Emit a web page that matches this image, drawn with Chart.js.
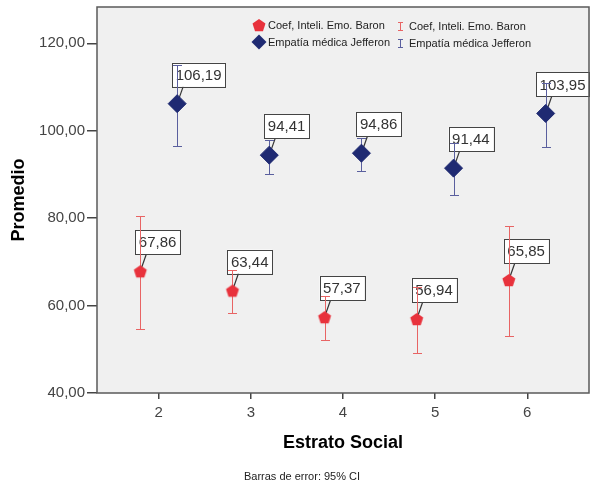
<!DOCTYPE html>
<html>
<head>
<meta charset="utf-8">
<script src="https://cdn.jsdelivr.net/npm/chart.js@4.4.1/dist/chart.umd.min.js"></script>
<style>
  html, body { margin: 0; padding: 0; background: #fff; }
  #wrap { width: 590px; height: 484px; }
</style>
</head>
<body>
<div id="wrap"><canvas id="chart" width="590" height="484"></canvas></div>
<script>
// ── Data ─────────────────────────────────────────────────
const estratos   = [2, 3, 4, 5, 6];
const yTicks     = [40, 60, 80, 100, 120];

const baronMean  = [67.86, 63.44, 57.37, 56.94, 65.85];
const baronLow   = [54.7, 58.4, 52.2, 49.2, 53.0];
const baronHigh  = [80.6, 68.2, 62.2, 64.2, 78.2];

const jeffMean   = [106.19, 94.41, 94.86, 91.44, 103.95];
const jeffLow    = [96.5, 90.1, 90.7, 85.2, 96.3];
const jeffHigh   = [115.1, 97.9, 98.4, 97.1, 110.9];

// ── Styles ───────────────────────────────────────────────
const FONT   = '"Liberation Sans", Arial, sans-serif';
const RED    = '#e8323c';
const RED_EB = '#e86464';
const BLUE   = '#1f2a72';
const BLUE_EB= '#5a5f9e';
const OFFSET = 0.2;

const fmt = v => v.toFixed(2).replace('.', ',');

function pentagon(r, color) {
  const s = Math.ceil(r * 2) + 2;
  const cv = document.createElement('canvas');
  cv.width = s; cv.height = s;
  const g = cv.getContext('2d');
  const cx = s / 2, cy = s / 2 + r * 0.1;
  g.beginPath();
  for (let i = 0; i < 5; i++) {
    const a = -Math.PI / 2 + i * 2 * Math.PI / 5;
    const px = cx + r * Math.cos(a), py = cy + r * Math.sin(a);
    i ? g.lineTo(px, py) : g.moveTo(px, py);
  }
  g.closePath();
  g.fillStyle = color;
  g.fill();
  return cv;
}

const penta = pentagon(6.8, RED);

// ── Plugin: background, labels, error bars, frame, texts ─
const spssPlugin = {
  id: 'spss',
  beforeDatasetsDraw(chart) {
    const { ctx, chartArea: a, scales: { y } } = chart;
    ctx.save();
    ctx.fillStyle = '#f0f0f0';
    ctx.fillRect(a.left, a.top, a.right - a.left, a.bottom - a.top);

    const sets = [
      { mean: baronMean, low: baronLow, high: baronHigh, color: RED_EB, idx: 0 },
      { mean: jeffMean,  low: jeffLow,  high: jeffHigh,  color: BLUE_EB, idx: 1 },
    ];

    // value labels with leader lines
    ctx.font = `15px ${FONT}`;
    ctx.textBaseline = 'middle';
    sets.forEach(s => {
      const meta = chart.getDatasetMeta(s.idx);
      meta.data.forEach((pt, i) => {
        const txt = fmt(s.mean[i]);
        const w = ctx.measureText(txt).width + 7;
        const h = 24;
        let left = pt.x - 5;
        if (left + w > a.right) left = a.right - w;
        const bottom = pt.y - 17;
        ctx.strokeStyle = '#333';
        ctx.lineWidth = 1.2;
        ctx.beginPath();
        ctx.moveTo(pt.x, pt.y);
        ctx.lineTo(pt.x + 6, bottom);
        ctx.stroke();
        ctx.fillStyle = '#fff';
        ctx.fillRect(left, bottom - h, w, h);
        ctx.strokeStyle = '#444';
        ctx.lineWidth = 1;
        ctx.strokeRect(Math.round(left) + 0.5, Math.round(bottom - h) + 0.5, Math.round(w), h);
        ctx.fillStyle = '#333';
        ctx.textAlign = 'left';
        ctx.fillText(txt, left + 3.5, bottom - h / 2 + 1);
      });
    });

    // error bars
    sets.forEach(s => {
      const meta = chart.getDatasetMeta(s.idx);
      ctx.strokeStyle = s.color;
      ctx.lineWidth = 1;
      meta.data.forEach((pt, i) => {
        const x = Math.round(pt.x) + 0.5;
        const yt = Math.round(y.getPixelForValue(s.high[i])) + 0.5;
        const yb = Math.round(y.getPixelForValue(s.low[i])) + 0.5;
        ctx.beginPath();
        ctx.moveTo(x, yt); ctx.lineTo(x, yb);
        ctx.moveTo(x - 4.5, yt); ctx.lineTo(x + 4.5, yt);
        ctx.moveTo(x - 4.5, yb); ctx.lineTo(x + 4.5, yb);
        ctx.stroke();
      });
    });
    ctx.restore();
  },
  afterDraw(chart) {
    const { ctx, chartArea: a } = chart;
    ctx.save();
    // frame
    ctx.strokeStyle = '#5a5a5a';
    ctx.lineWidth = 1.5;
    ctx.strokeRect(a.left, a.top, a.right - a.left, a.bottom - a.top);

    // legend
    ctx.font = `11px ${FONT}`;
    ctx.textBaseline = 'middle';
    ctx.textAlign = 'left';
    ctx.fillStyle = '#222';
    ctx.drawImage(penta, 259 - penta.width / 2, 25 - penta.height / 2);
    ctx.fillText('Coef, Inteli. Emo. Baron', 268, 26);
    ctx.fillStyle = BLUE;
    ctx.beginPath();
    ctx.moveTo(259, 34.5); ctx.lineTo(266.5, 42); ctx.lineTo(259, 49.5); ctx.lineTo(251.5, 42);
    ctx.closePath(); ctx.fill();
    ctx.fillStyle = '#222';
    ctx.fillText('Empatía médica Jefferon', 268, 43);

    [[RED_EB, 26], [BLUE_EB, 43]].forEach(([c, yy]) => {
      ctx.strokeStyle = c;
      ctx.lineWidth = 1;
      ctx.beginPath();
      ctx.moveTo(400.5, yy - 4); ctx.lineTo(400.5, yy + 4);
      ctx.moveTo(398, yy - 4 + 0.5); ctx.lineTo(403, yy - 4 + 0.5);
      ctx.moveTo(398, yy + 4 + 0.5); ctx.lineTo(403, yy + 4 + 0.5);
      ctx.stroke();
    });
    ctx.fillText('Coef, Inteli. Emo. Baron', 409, 27);
    ctx.fillText('Empatía médica Jefferon', 409, 44);

    // axis titles
    ctx.fillStyle = '#000';
    ctx.font = `bold 18px ${FONT}`;
    ctx.textAlign = 'center';
    ctx.fillText('Estrato Social', (a.left + a.right) / 2, 443);
    ctx.save();
    ctx.translate(19, (a.top + a.bottom) / 2);
    ctx.rotate(-Math.PI / 2);
    ctx.fillText('Promedio', 0, 0);
    ctx.restore();

    // footnote
    ctx.font = `11px ${FONT}`;
    ctx.fillStyle = '#222';
    ctx.fillText('Barras de error: 95% CI', 302, 477);
    ctx.restore();
  }
};

// no extra label padding — the frame sits at fixed pixels
const noPad = s => { s.paddingLeft = 0; s.paddingRight = 0; s.paddingTop = 0; s.paddingBottom = 0; };

// ── Chart ────────────────────────────────────────────────
new Chart(document.getElementById('chart'), {
  type: 'scatter',
  data: {
    datasets: [
      {
        label: 'Coef, Inteli. Emo. Baron',
        data: estratos.map((e, i) => ({ x: e - OFFSET, y: baronMean[i] })),
        pointStyle: penta,
        pointRadius: 7,
        backgroundColor: RED,
        borderColor: RED,
      },
      {
        label: 'Empatía médica Jefferon',
        data: estratos.map((e, i) => ({ x: e + OFFSET, y: jeffMean[i] })),
        pointStyle: 'rectRot',
        pointRadius: 9,
        borderWidth: 1,
        backgroundColor: BLUE,
        borderColor: BLUE,
      },
    ],
  },
  options: {
    responsive: false,
    animation: false,
    devicePixelRatio: 1,
    layout: { autoPadding: false, padding: { top: 7, right: 1, left: 0, bottom: 0 } },
    plugins: { legend: { display: false }, tooltip: { enabled: false } },
    scales: {
      x: {
        type: 'linear', min: 1.33, max: 6.67,
        afterBuildTicks: s => { s.ticks = estratos.map(v => ({ value: v })); },
        afterFit: s => { s.height = 91; noPad(s); },
        ticks: { color: '#444', font: { family: FONT, size: 15 }, padding: 5 },
        grid: { drawOnChartArea: false, drawTicks: true, tickLength: 6, color: '#444', lineWidth: 1.5 },
        border: { display: false },
      },
      y: {
        type: 'linear', min: 40, max: 128.3,
        afterBuildTicks: s => { s.ticks = yTicks.map(v => ({ value: v })); },
        afterFit: s => { s.width = 97; noPad(s); },
        ticks: { color: '#444', font: { family: FONT, size: 15 }, padding: 2, callback: v => fmt(v) },
        grid: { drawOnChartArea: false, drawTicks: true, tickLength: 10, color: '#444', lineWidth: 1.5 },
        border: { display: false },
      },
    },
  },
  plugins: [spssPlugin],
});
</script>
</body>
</html>
